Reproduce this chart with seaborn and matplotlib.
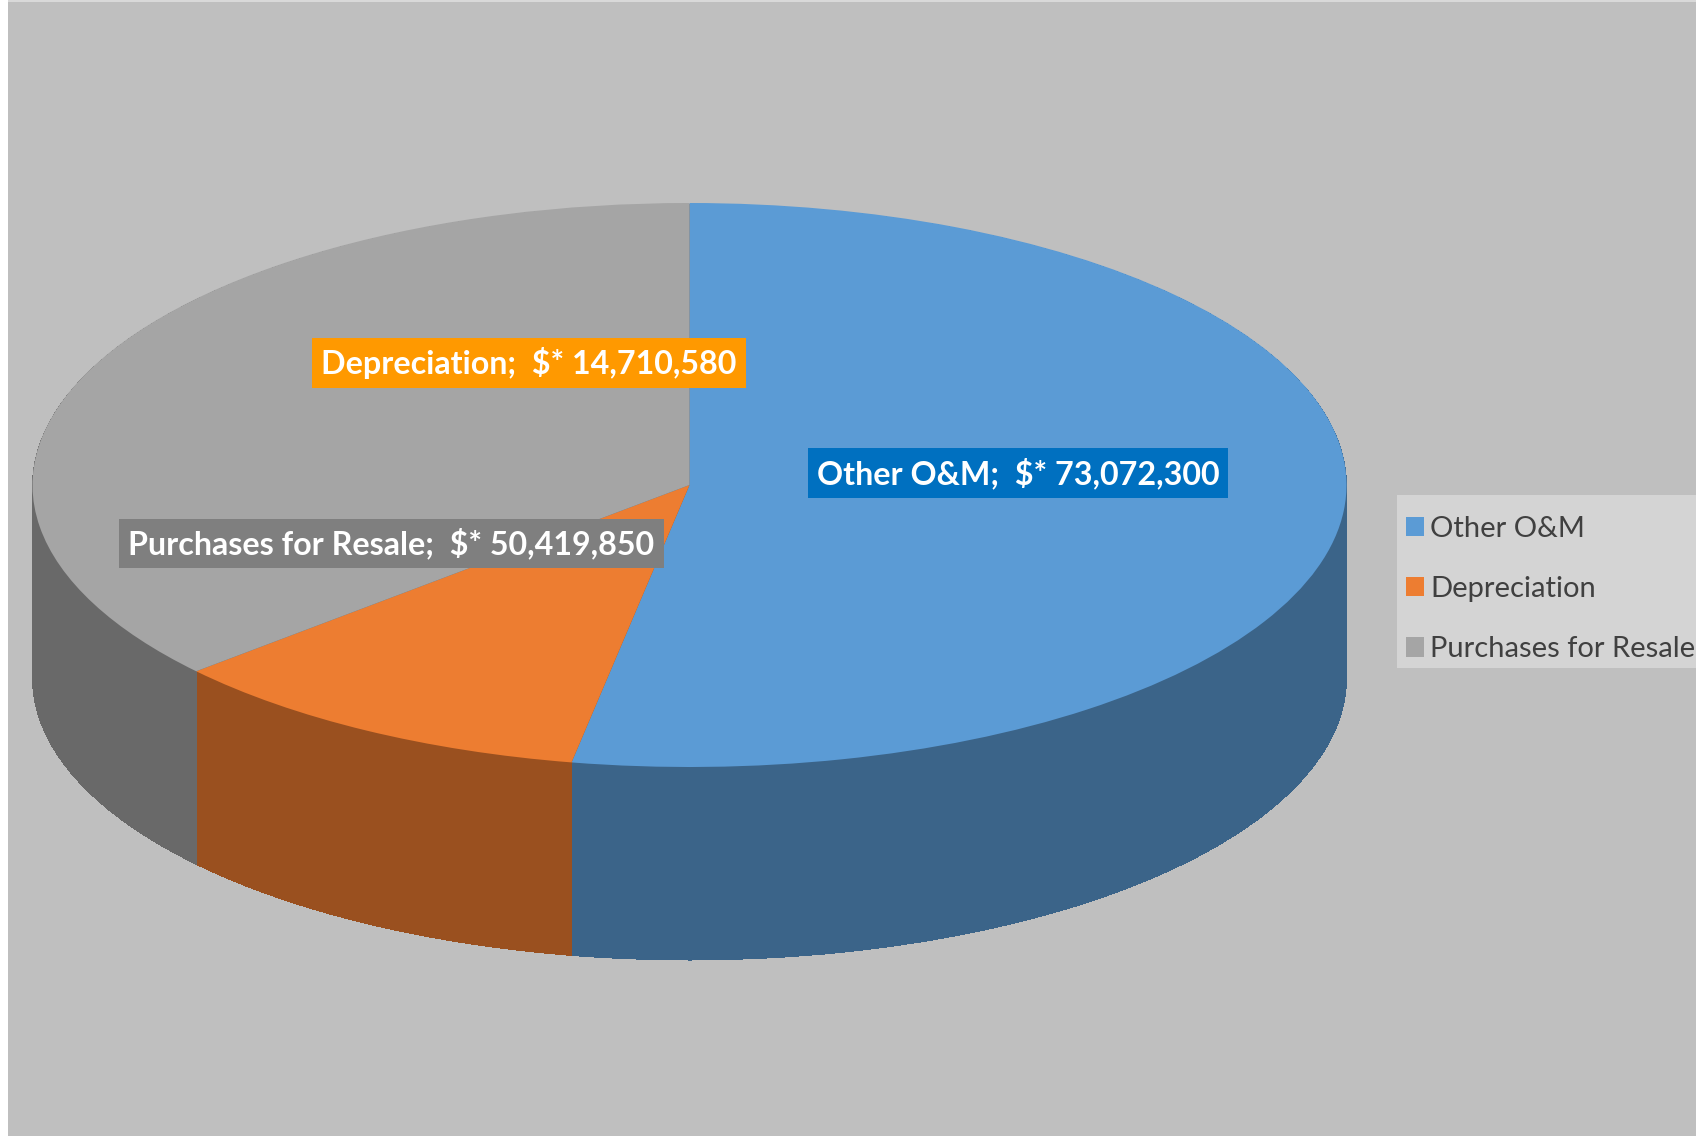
import numpy as np
import matplotlib
matplotlib.use("Agg")
import matplotlib.pyplot as plt
from matplotlib.transforms import Affine2D
from matplotlib.patches import Patch, Rectangle
import seaborn as sns

# ---- data ----
categories = ["Other O&M", "Depreciation", "Purchases for Resale"]
values = [73072300, 14710580, 50419850]
value_labels = ["$* 73,072,300", "$* 14,710,580", "$* 50,419,850"]

# ---- styles ----
top_colors = ["#5b9bd5", "#ed7d31", "#a5a5a5"]
side_colors = ["#3b6489", "#9a501f", "#696969"]
label_box_colors = ["#0070c0", "#ff9900", "#7f7f7f"]

sns.set_style("white")
plt.rcParams["font.family"] = ["Lato", "DejaVu Sans"]

W, H = 1696, 1136
fig = plt.figure(figsize=(W / 100, H / 100), dpi=100)
fig.patch.set_facecolor("white")
ax = fig.add_axes([0, 0, 1, 1])

# geometry (pixel units, y up)
cx, cy = 689.5, H - 485
a, b = 657.0, 282.0
depth = 193.0

def squash(center_y):
    return Affine2D().translate(-cx, -center_y).scale(1, b / a).translate(cx, center_y) + ax.transData

# side walls: stacked darker pies
for d in np.arange(depth, 0, -1.0):
    wedges, _ = ax.pie(values, colors=side_colors, startangle=90, counterclock=False,
                       center=(cx, cy - d), radius=a, frame=True,
                       wedgeprops=dict(linewidth=0, antialiased=False))
    for w in wedges:
        w.set_transform(squash(cy - d))

# top face
wedges, _ = ax.pie(values, colors=top_colors, startangle=90, counterclock=False,
                   center=(cx, cy), radius=a, frame=True,
                   wedgeprops=dict(linewidth=0))
for w in wedges:
    w.set_transform(squash(cy))

ax.set_xlim(0, W)
ax.set_ylim(0, H)
ax.set_aspect("auto")
ax.set_facecolor("#bfbfbf")
ax.axis("off")

# background
ax.add_patch(Rectangle((8, 0), W - 8, H - 2, facecolor="#bfbfbf", edgecolor="none", zorder=-10))
ax.add_patch(Rectangle((8, H - 2), W - 8, 2, facecolor="#d9d9d9", edgecolor="none", zorder=-10))

# data labels
label_pos = [(1018, H - 473), (529, H - 363), (391.5, H - 543.5)]
for cat, vl, (x, y), bc in zip(categories, value_labels, label_pos, label_box_colors):
    ax.text(x, y, f"{cat};  {vl}", ha="center", va="center", color="white",
            fontsize=23.2, fontweight="bold", zorder=10,
            bbox=dict(boxstyle="square,pad=0.28", facecolor=bc, edgecolor="none"))

# legend background box
ax.add_patch(Rectangle((1397, H - 668), W - 1397 + 10, 173, facecolor="#d4d4d4",
                       edgecolor="none", zorder=5))

# legend
handles = [Patch(facecolor=c, edgecolor="none") for c in top_colors]
leg = ax.legend(handles, categories, loc="upper left",
                bbox_to_anchor=(1406, H - 516), bbox_transform=ax.transData,
                borderaxespad=0, frameon=False, fontsize=21,
                handlelength=0.63, handleheight=0.63, handletextpad=0.2,
                labelspacing=1.17, borderpad=0)
leg.set_zorder(6)
for t in leg.get_texts():
    t.set_color("#404040")

fig.savefig("out.png", dpi=100, facecolor="white")
